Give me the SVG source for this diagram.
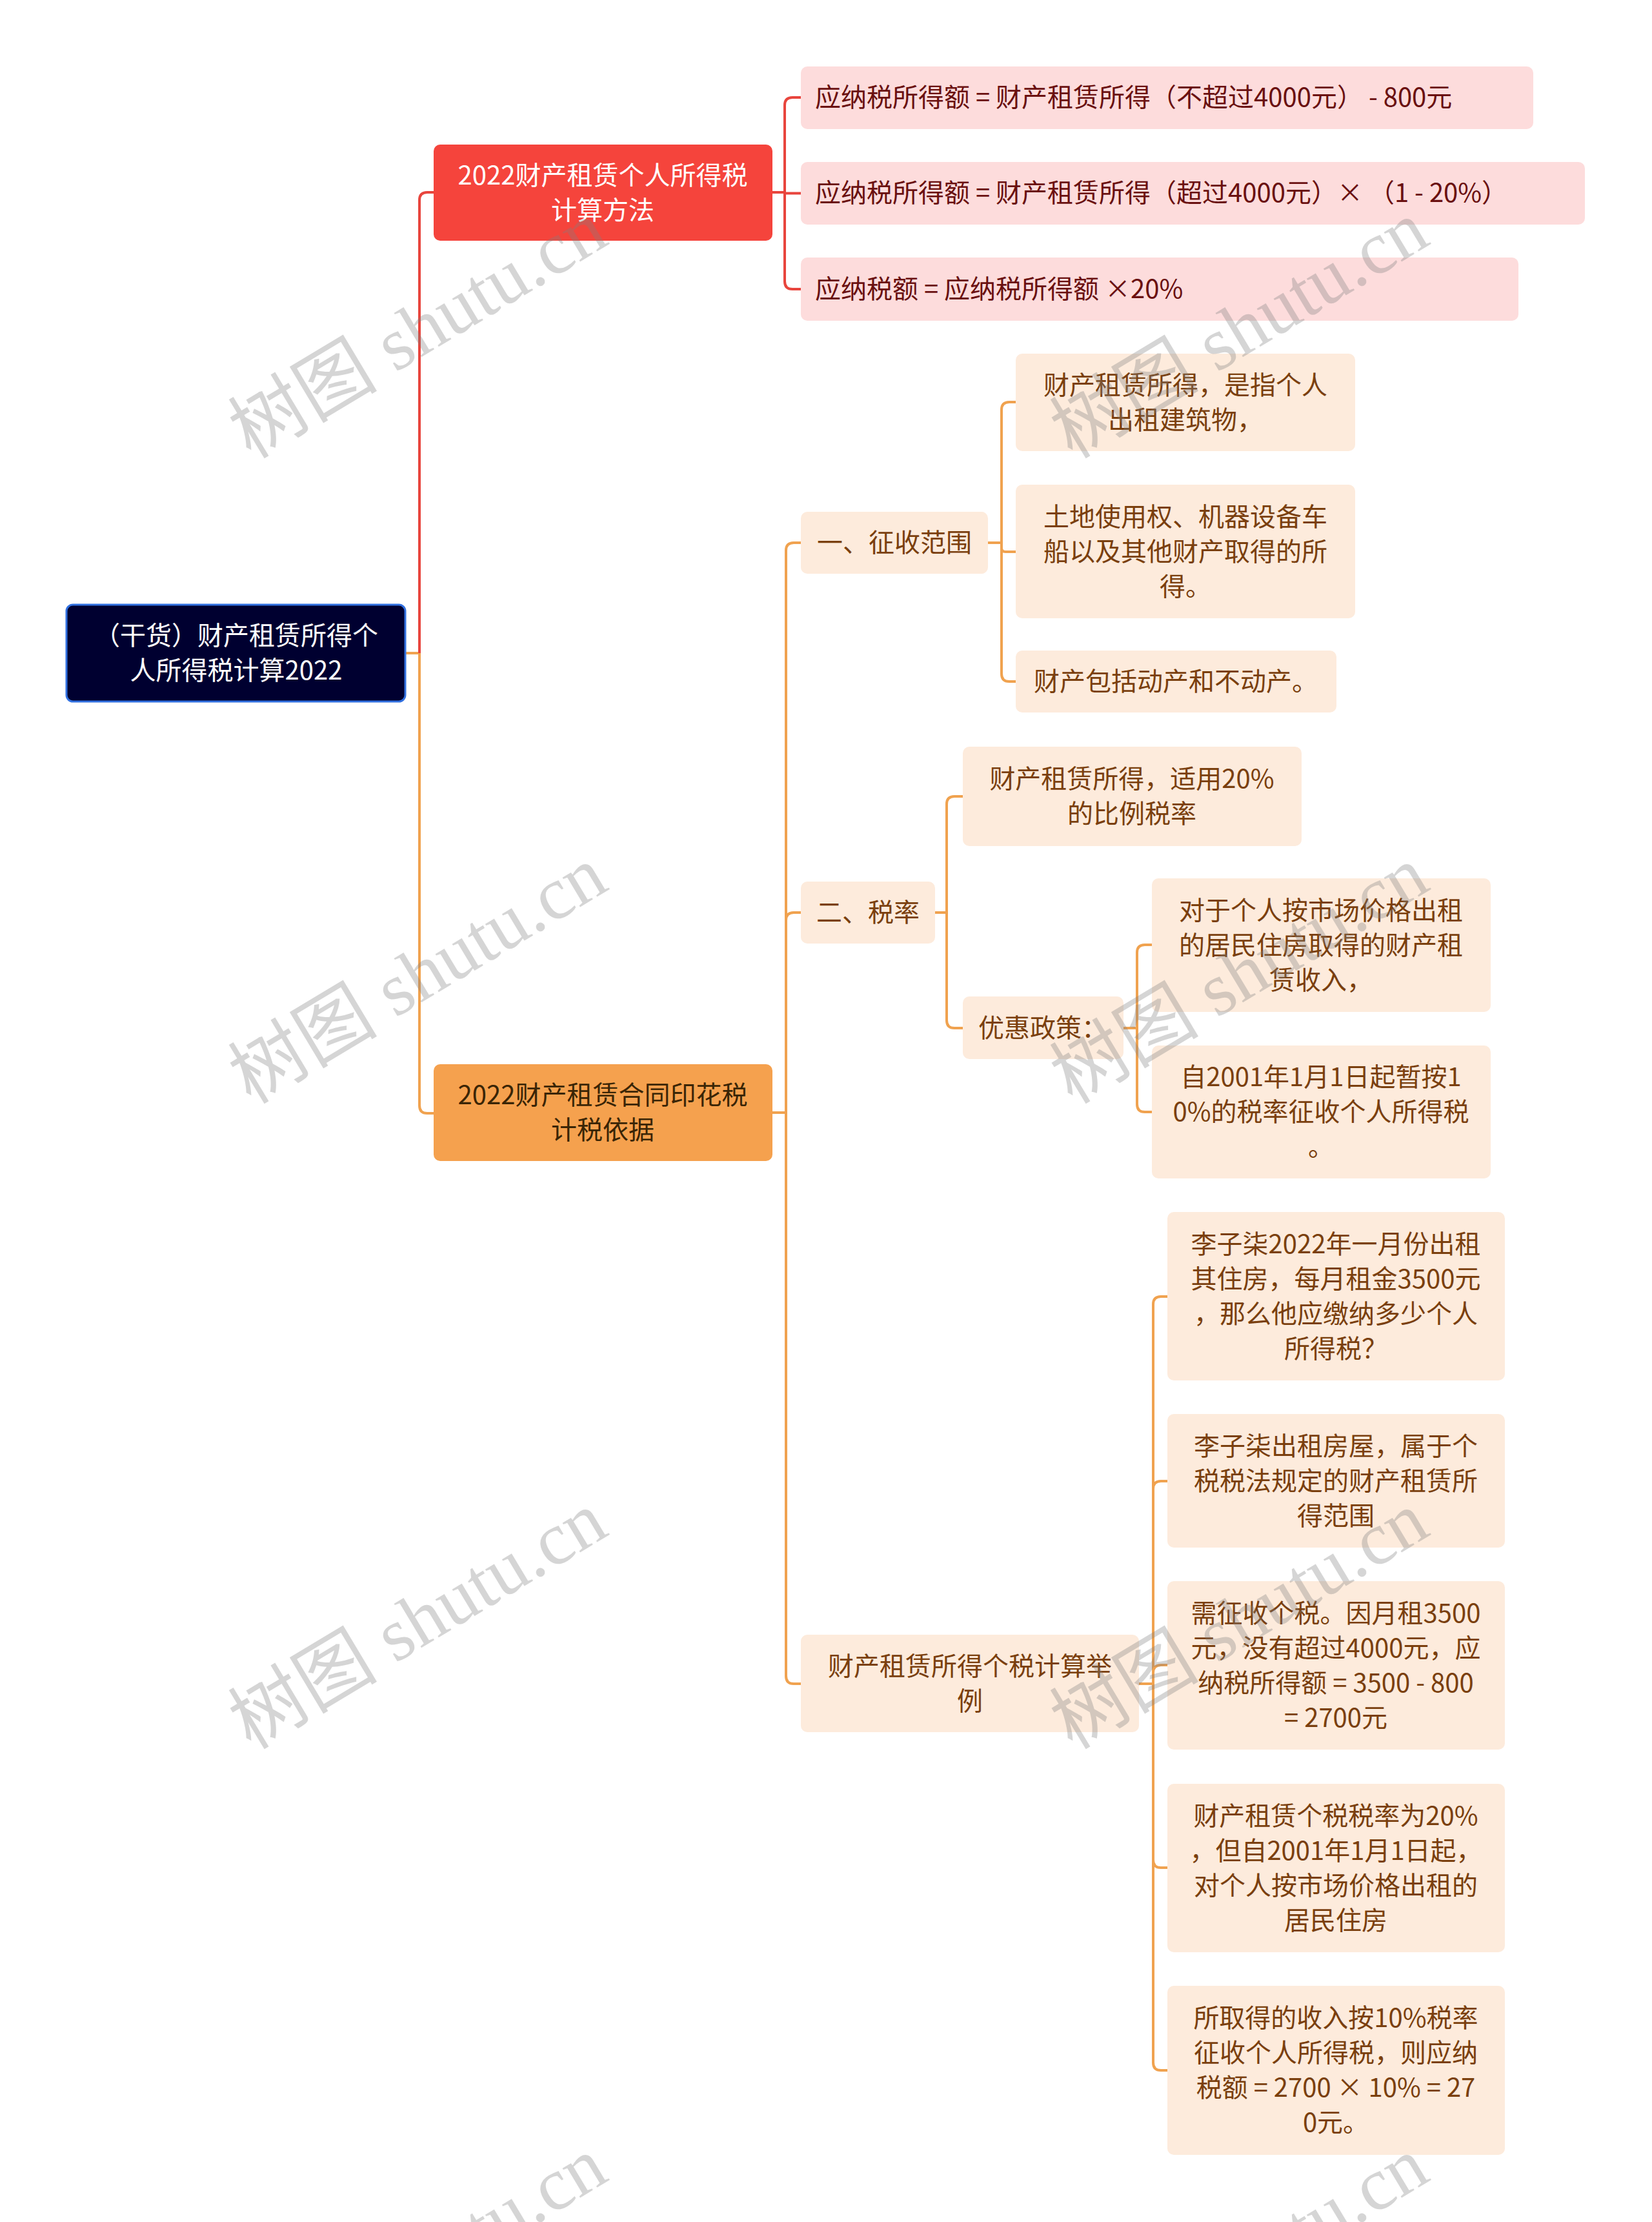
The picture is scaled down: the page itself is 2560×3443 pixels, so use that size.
<svg xmlns="http://www.w3.org/2000/svg" width="2560" height="3443" viewBox="0 0 2560 3443">
<style>
text{font-family:"Noto Sans CJK SC","Noto Sans",sans-serif;font-size:40px}
.c{text-anchor:middle}
.root rect{fill:#000030;stroke:#3170e0;stroke-width:3}
.root text{fill:#ffffff}
.red rect{fill:#f5443c}
.red text{fill:#ffffff}
.org rect{fill:#f5a14e}
.org text{fill:#3a2506}
.pink rect{fill:#fddcdc}
.pink text{fill:#6a1010}
.sub rect{fill:#fdebdc}
.sub text{fill:#7a3f0e}
.lr{fill:none;stroke:#e8453d;stroke-width:4}
.lo{fill:none;stroke:#f0a24f;stroke-width:4}
.wm{font-family:"Liberation Serif","Noto Sans CJK SC",serif;font-size:116px;fill:#808080;fill-opacity:0.33;text-anchor:middle}
</style>
<rect width="2560" height="3443" fill="#ffffff"/>
<g id="connectors">
<path class="lo" d="M628,1012 H650 V1713 Q650,1725 662,1725 H672"/>
<path class="lr" d="M650,1012 V310 Q650,298 662,298 H672"/>
<path class="lr" d="M1197,298 H1216 V163 Q1216,151 1228,151 H1241"/>
<path class="lr" d="M1216,298 V299.5 H1241"/>
<path class="lr" d="M1216,298 V436 Q1216,448 1228,448 H1241"/>
<path class="lo" d="M1197,1724 H1218 V853 Q1218,841 1230,841 H1241"/>
<path class="lo" d="M1218,1724 V1426 Q1218,1414 1230,1414 H1241"/>
<path class="lo" d="M1218,1724 V2597 Q1218,2609 1230,2609 H1241"/>
<path class="lo" d="M1531,841 H1552 V635 Q1552,623 1564,623 H1574"/>
<path class="lo" d="M1552,841 V849 Q1552,855 1558,855 H1574"/>
<path class="lo" d="M1552,841 V1044 Q1552,1056 1564,1056 H1574"/>
<path class="lo" d="M1449,1414 H1467 V1246 Q1467,1234 1479,1234 H1492"/>
<path class="lo" d="M1467,1414 V1581 Q1467,1593 1479,1593 H1492"/>
<path class="lo" d="M1741,1593 H1762 V1476 Q1762,1464 1774,1464 H1785"/>
<path class="lo" d="M1762,1593 V1711 Q1762,1723 1774,1723 H1785"/>
<path class="lo" d="M1765,2609 H1787 V2021 Q1787,2009 1799,2009 H1809"/>
<path class="lo" d="M1787,2609 V2307 Q1787,2295 1799,2295 H1809"/>
<path class="lo" d="M1787,2609 V2592 Q1787,2580 1799,2580 H1809"/>
<path class="lo" d="M1787,2609 V2882 Q1787,2894 1799,2894 H1809"/>
<path class="lo" d="M1787,2609 V3196 Q1787,3208 1799,3208 H1809"/>
</g>
<g id="root" class="root">
<rect x="103" y="937" width="525" height="150" rx="10"/>
<text class="c" x="366" y="999">（干货）财产租赁所得个</text>
<text class="c" x="366" y="1053">人所得税计算2022</text>
</g>
<g id="n-method" class="red">
<rect x="672" y="224" width="525" height="149" rx="10"/>
<text class="c" x="934" y="286">2022财产租赁个人所得税</text>
<text class="c" x="934" y="340">计算方法</text>
</g>
<g id="n-stamp" class="org">
<rect x="672" y="1649" width="525" height="150" rx="10"/>
<text class="c" x="934" y="1711">2022财产租赁合同印花税</text>
<text class="c" x="934" y="1765">计税依据</text>
</g>
<g id="n-r1" class="pink">
<rect x="1241" y="103" width="1135" height="97" rx="10"/>
<text x="1263" y="165">应纳税所得额 = 财产租赁所得（不超过4000元） - 800元</text>
</g>
<g id="n-r2" class="pink">
<rect x="1241" y="251" width="1215" height="97" rx="10"/>
<text x="1263" y="313">应纳税所得额 = 财产租赁所得（超过4000元）× （1 - 20%）</text>
</g>
<g id="n-r3" class="pink">
<rect x="1241" y="399" width="1112" height="98" rx="10"/>
<text x="1263" y="462">应纳税额 = 应纳税所得额 ×20%</text>
</g>
<g id="n-a" class="sub">
<rect x="1241" y="793" width="290" height="96" rx="10"/>
<text class="c" x="1386" y="855">一、征收范围</text>
</g>
<g id="n-a1" class="sub">
<rect x="1574" y="548" width="526" height="151" rx="10"/>
<text class="c" x="1837" y="611">财产租赁所得，是指个人</text>
<text class="c" x="1837" y="665">出租建筑物，</text>
</g>
<g id="n-a2" class="sub">
<rect x="1574" y="751" width="526" height="207" rx="10"/>
<text class="c" x="1837" y="815">土地使用权、机器设备车</text>
<text class="c" x="1837" y="869">船以及其他财产取得的所</text>
<text class="c" x="1837" y="923">得。</text>
</g>
<g id="n-a3" class="sub">
<rect x="1574" y="1008" width="497" height="96" rx="10"/>
<text class="c" x="1822" y="1070">财产包括动产和不动产。</text>
</g>
<g id="n-b" class="sub">
<rect x="1241" y="1366" width="208" height="96" rx="10"/>
<text class="c" x="1345" y="1428">二、税率</text>
</g>
<g id="n-b1" class="sub">
<rect x="1492" y="1157" width="525" height="154" rx="10"/>
<text class="c" x="1754" y="1221">财产租赁所得，适用20%</text>
<text class="c" x="1754" y="1275">的比例税率</text>
</g>
<g id="n-b2" class="sub">
<rect x="1492" y="1544" width="249" height="97" rx="10"/>
<text class="c" x="1616" y="1607">优惠政策：</text>
</g>
<g id="n-b2a" class="sub">
<rect x="1785" y="1361" width="525" height="207" rx="10"/>
<text class="c" x="2047" y="1425">对于个人按市场价格出租</text>
<text class="c" x="2047" y="1479">的居民住房取得的财产租</text>
<text class="c" x="2047" y="1533">赁收入，</text>
</g>
<g id="n-b2b" class="sub">
<rect x="1785" y="1620" width="525" height="206" rx="10"/>
<text class="c" x="2047" y="1683">自2001年1月1日起暂按1</text>
<text class="c" x="2047" y="1737">0%的税率征收个人所得税</text>
<text class="c" x="2047" y="1791">。</text>
</g>
<g id="n-c" class="sub">
<rect x="1241" y="2533" width="524" height="151" rx="10"/>
<text class="c" x="1503" y="2596">财产租赁所得个税计算举</text>
<text class="c" x="1503" y="2650">例</text>
</g>
<g id="n-c1" class="sub">
<rect x="1809" y="1878" width="523" height="261" rx="10"/>
<text class="c" x="2070" y="1942">李子柒2022年一月份出租</text>
<text class="c" x="2070" y="1996">其住房，每月租金3500元</text>
<text class="c" x="2070" y="2050">，那么他应缴纳多少个人</text>
<text class="c" x="2070" y="2104">所得税？</text>
</g>
<g id="n-c2" class="sub">
<rect x="1809" y="2191" width="523" height="207" rx="10"/>
<text class="c" x="2070" y="2255">李子柒出租房屋，属于个</text>
<text class="c" x="2070" y="2309">税税法规定的财产租赁所</text>
<text class="c" x="2070" y="2363">得范围</text>
</g>
<g id="n-c3" class="sub">
<rect x="1809" y="2450" width="523" height="261" rx="10"/>
<text class="c" x="2070" y="2514">需征收个税。因月租3500</text>
<text class="c" x="2070" y="2568">元，没有超过4000元，应</text>
<text class="c" x="2070" y="2622">纳税所得额 = 3500 - 800</text>
<text class="c" x="2070" y="2676">= 2700元</text>
</g>
<g id="n-c4" class="sub">
<rect x="1809" y="2764" width="523" height="261" rx="10"/>
<text class="c" x="2070" y="2828">财产租赁个税税率为20%</text>
<text class="c" x="2070" y="2882">，但自2001年1月1日起，</text>
<text class="c" x="2070" y="2936">对个人按市场价格出租的</text>
<text class="c" x="2070" y="2990">居民住房</text>
</g>
<g id="n-c5" class="sub">
<rect x="1809" y="3077" width="523" height="262" rx="10"/>
<text class="c" x="2070" y="3141">所取得的收入按10%税率</text>
<text class="c" x="2070" y="3195">征收个人所得税，则应纳</text>
<text class="c" x="2070" y="3249">税额 = 2700 × 10% = 27</text>
<text class="c" x="2070" y="3303">0元。</text>
</g>
<g id="watermarks">
<text class="wm" transform="translate(648,512) rotate(-31)" y="38">树图 shutu.cn</text>
<text class="wm" transform="translate(1921,512) rotate(-31)" y="38">树图 shutu.cn</text>
<text class="wm" transform="translate(648,1512) rotate(-31)" y="38">树图 shutu.cn</text>
<text class="wm" transform="translate(1921,1512) rotate(-31)" y="38">树图 shutu.cn</text>
<text class="wm" transform="translate(648,2512) rotate(-31)" y="38">树图 shutu.cn</text>
<text class="wm" transform="translate(1921,2512) rotate(-31)" y="38">树图 shutu.cn</text>
<text class="wm" transform="translate(648,3512) rotate(-31)" y="38">树图 shutu.cn</text>
<text class="wm" transform="translate(1921,3512) rotate(-31)" y="38">树图 shutu.cn</text>
</g>
</svg>
